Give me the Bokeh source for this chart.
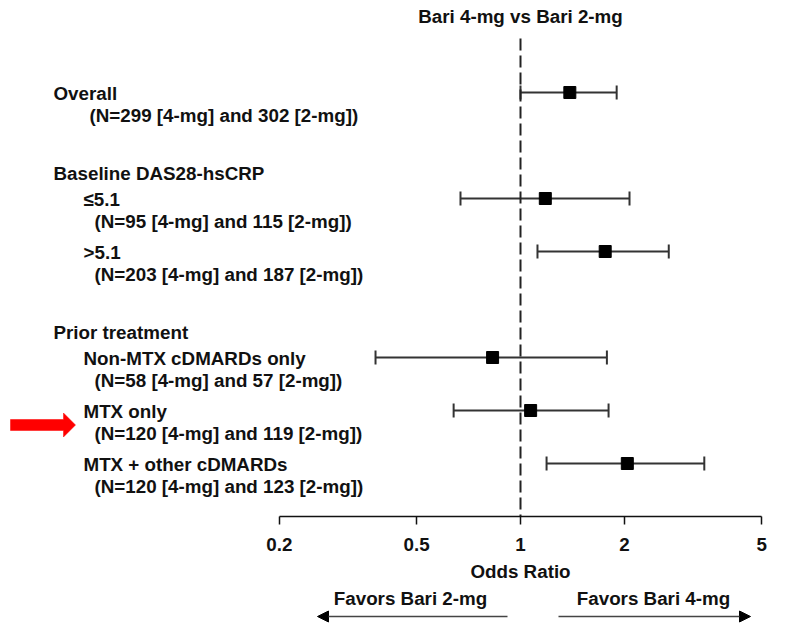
import math
from bokeh.plotting import figure
from bokeh.models import (Range1d, LinearAxis, FixedTicker, Whisker, ColumnDataSource,
                          Arrow, NormalHead)
from bokeh.core.properties import value
from bokeh.embed import file_html
from bokeh.resources import INLINE

# ---------------- data ----------------
row_labels = ["Overall", "\u22645.1", ">5.1", "Non-MTX cDMARDs only", "MTX only", "MTX + other cDMARDs"]
row_n = ["(N=299 [4-mg] and 302 [2-mg])",
         "(N=95 [4-mg] and 115 [2-mg])",
         "(N=203 [4-mg] and 187 [2-mg])",
         "(N=58 [4-mg] and 57 [2-mg])",
         "(N=120 [4-mg] and 119 [2-mg])",
         "(N=120 [4-mg] and 123 [2-mg])"]
odds_ratio = [1.39, 1.18, 1.76, 0.83, 1.07, 2.04]
ci_lower = [1.00, 0.67, 1.12, 0.38, 0.64, 1.19]
ci_upper = [1.90, 2.07, 2.69, 1.78, 1.80, 3.41]
group_headers = ["Baseline DAS28-hsCRP", "Prior treatment"]
tick_values = [0.2, 0.5, 1, 2, 5]
tick_labels = ["0.2", "0.5", "1", "2", "5"]
title_text = "Bari 4-mg vs Bari 2-mg"
axis_title = "Odds Ratio"
favors_left = "Favors Bari 2-mg"
favors_right = "Favors Bari 4-mg"

# ---------------- layout ----------------
W, H = 792, 624
PX_ONE = 520.0      # pixel of OR = 1
PX_DEC = 345.0      # pixels per decade
ROW0 = 92.0         # pixel of first row
ROW_STEP = 53.0     # pixels per row slot

def xv(px):
    return 10 ** ((px - PX_ONE) / PX_DEC)

def sl(py):
    return (py - ROW0) / ROW_STEP

row_slot = [0, 2, 3, 5, 6, 7]
row_indent = [53, 83, 83, 83, 83, 83]
n_indent = [89, 94, 94, 94, 94, 94]
header_slot = [sl(173), sl(332)]
axis_slot = sl(516)
N_OFF = 23.0 / ROW_STEP

FONT = value("Liberation Sans")
FS = "18.8px"
TXT = "#111111"

p = figure(width=W, height=H, output_backend="svg", toolbar_location=None,
           x_axis_type="log", x_axis_location=None, y_axis_location=None,
           x_range=Range1d(xv(0), xv(W)), y_range=Range1d(sl(H), sl(0)),
           min_border=0, min_border_left=0, min_border_right=0,
           min_border_top=0, min_border_bottom=0)
p.outline_line_color = None
p.background_fill_color = "white"
p.grid.grid_line_color = None
p.grid.visible = False

# reference line at 1
p.segment(x0=[1], x1=[1], y0=[sl(38)], y1=[axis_slot], line_color="#222222",
          line_width=2, line_dash="12 5")

# x axis
ax = LinearAxis(ticker=FixedTicker(ticks=tick_values),
                major_label_overrides={v: l for v, l in zip(tick_values, tick_labels)},
                fixed_location=axis_slot, bounds=(tick_values[0], tick_values[-1]),
                axis_label=axis_title)
ax.axis_line_color = "#111111"
ax.axis_line_width = 1.5
ax.major_tick_line_color = "#111111"
ax.major_tick_line_width = 1.5
ax.major_tick_out = 8
ax.major_tick_in = 0
ax.minor_tick_line_color = None
ax.major_label_text_font = "Liberation Sans"
ax.major_label_text_font_style = "bold"
ax.major_label_text_font_size = FS
ax.major_label_text_color = TXT
ax.major_label_standoff = 13
ax.axis_label_text_font = "Liberation Sans"
ax.axis_label_text_font_style = "bold"
ax.axis_label_text_font_size = FS
ax.axis_label_text_color = TXT
ax.axis_label_standoff = 7
p.add_layout(ax, "below")

# CIs and points
src = ColumnDataSource(dict(y=row_slot, lo=ci_lower, hi=ci_upper, orr=odds_ratio))
wh = Whisker(base="y", lower="lo", upper="hi", dimension="width", source=src,
             line_color="#333333", line_width=2)
wh.lower_head.size = 14
wh.upper_head.size = 14
wh.lower_head.line_width = 2
wh.upper_head.line_width = 2
wh.lower_head.line_color = "#333333"
wh.upper_head.line_color = "#333333"
p.add_layout(wh)
p.scatter(x="orr", y="y", source=src, marker="square", size=12,
          fill_color="black", line_color="black")

# texts
def txt(xs, ys, texts, align="left"):
    p.text(x=xs, y=ys, text=texts, text_font=FONT, text_font_style="bold",
           text_font_size=FS, text_color=TXT, text_baseline="middle", text_align=align)

txt([xv(px) for px in row_indent], [s + 0.02 for s in row_slot], row_labels)
txt([xv(px) for px in n_indent], [s + N_OFF for s in row_slot], row_n)
txt([xv(53)] * len(group_headers), header_slot, group_headers)
txt([1], [sl(15.5)], [title_text], align="center")
txt([xv(410), xv(653)], [sl(598)] * 2, [favors_left, favors_right], align="center")

# favors arrows
for a, b in [(507, 317), (558, 750)]:
    p.add_layout(Arrow(end=NormalHead(size=11, fill_color="black", line_color="black"),
                       x_start=xv(a), x_end=xv(b), y_start=sl(616), y_end=sl(616),
                       line_color="#444444", line_width=1.5))

# red arrow pointing at "MTX only"
ay = 424.5
poly_px = [(10, ay - 5.5), (63, ay - 5.5), (63, ay - 12), (75, ay), (63, ay + 12),
           (63, ay + 5.5), (10, ay + 5.5)]
p.patch(x=[xv(a) for a, _ in poly_px], y=[sl(b) for _, b in poly_px],
        fill_color="#ff0000", line_color="#ff0000", line_width=0.5)

open("out.html", "w").write(file_html(p, INLINE))
